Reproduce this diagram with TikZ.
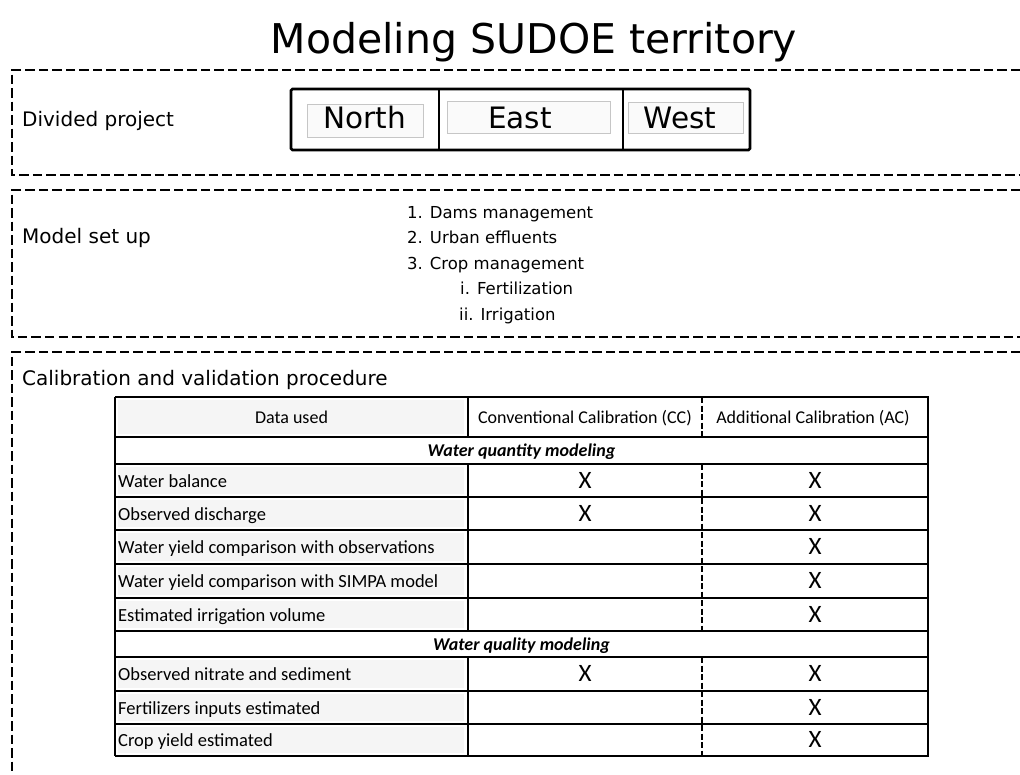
\documentclass[tikz,border=0pt]{standalone}
\usepackage{fontspec}
\setmainfont{DejaVu Sans}
\newfontfamily\tabfont{Carlito}
\begin{document}
\begin{tikzpicture}[x=1pt,y=-1pt,
  dashbox/.style={line width=2.1pt, dash pattern=on 9.5pt off 4pt},
  lbl/.style={anchor=base west, inner sep=0pt, font=\fontsize{20}{22}\selectfont},
  listitem/.style={anchor=base west, inner sep=0pt, font=\fontsize{16.5}{19}\selectfont},
  region/.style={anchor=base, inner sep=0pt, font=\fontsize{29.5}{32}\selectfont},
  innerbox/.style={draw=gray!45, fill=gray!4, line width=0.6pt},
  cell/.style={anchor=base west, inner sep=0pt, font=\tabfont\fontsize{18.5}{20}\selectfont},
  head/.style={anchor=base, inner sep=0pt, font=\tabfont\fontsize{18}{20}\selectfont},
  sect/.style={anchor=base, inner sep=0pt, font=\tabfont\bfseries\itshape\fontsize{18}{20}\selectfont},
  xmark/.style={anchor=base, inner sep=0pt, font=\tabfont\fontsize{25}{27}\selectfont},
  tline/.style={line width=1.9pt},
  dline/.style={line width=1.4pt, dash pattern=on 6pt off 2.5pt},
  shade/.style={fill=gray!8, draw=none}]
\useasboundingbox (0,0) rectangle (1020,774);
\fill[white] (0,0) rectangle (1020,774);

% title
\node[anchor=base, inner sep=0pt, font=\fontsize{41}{46}\selectfont] (title) at (534,53) {Modeling SUDOE territory};

% dashed frames
\draw[dashbox] (1020,70) -- (12,70) -- (12,175) -- (1020,175);
\draw[dashbox] (1020,190) -- (12,190) -- (12,337) -- (1020,337);
\draw[dashbox] (1020,352) -- (12,352) -- (12,774);

% section labels
\node[lbl] (divided) at (22,126) {Divided project};
\node[lbl] (setup) at (22,243) {Model set up};
\node[lbl] (calib) at (22,385) {Calibration and validation procedure};

% North / East / West
\draw[innerbox] (307,104) rectangle (423,137);
\draw[innerbox] (447,101) rectangle (610,133);
\draw[innerbox] (628,102) rectangle (743,133);
\draw[line width=2.6pt, rounded corners=1.5pt] (291,89) rectangle (750,150);
\draw[line width=2.4pt] (439,89) -- (439,150);
\draw[line width=2.4pt] (623,89) -- (623,150);
\node[region] (north) at (365,128) {North};
\node[region] (east) at (520,128) {East};
\node[region] (west) at (680,128) {West};

% model set up list
\node[listitem] (l1) at (407,218) {1. Dams management};
\node[listitem] (l2) at (407,243.5) {2. Urban effluents};
\node[listitem] (l3) at (407,269) {3. Crop management};
\node[listitem] (l4) at (460,294.5) {i. Fertilization};
\node[listitem] (l5) at (459,320) {ii. Irrigation};

% table shading of first column
\foreach \a/\b in {397/437,464/497,497/530,530/564,564/598,598/631,657/691,691/724,724/756}
  \fill[shade] (118,\a+3) rectangle (464,\b-3);

% table lines
\foreach \yy in {437,464,497,530,564,598,631,657,691,724}
  \draw[tline] (115,\yy) -- (928,\yy);
\foreach \a/\b in {397/437,464/631,657/756}{
  \draw[tline] (468,\a) -- (468,\b);
  \draw[dline] (702,\a) -- (702,\b);
}
\draw[tline] (115,397) -- (928,397);
\draw[tline] (115,756) -- (928,756);
\draw[tline] (115,397) -- (115,756);
\draw[line width=2.8pt] (928,396) -- (928,757);

% header
\node[head] (h1) at (291.5,423) {Data used};
\node[head] (h2) at (585,423) {Conventional Calibration (CC)};
\node[head] (h3) at (813,423) {Additional Calibration (AC)};

% section rows
\node[sect] (s1) at (521.5,456) {Water quantity modeling};
\node[sect] (s2) at (521.5,650) {Water quality modeling};

% data rows
\node[cell] (r1) at (118,487) {Water balance};
\node[cell] (r2) at (118,520) {Observed discharge};
\node[cell] (r3) at (118,553.5) {Water yield comparison with observations};
\node[cell] (r4) at (118,587.5) {Water yield comparison with SIMPA model};
\node[cell] (r5) at (118,621) {Estimated irrigation volume};
\node[cell] (r6) at (118,680.5) {Observed nitrate and sediment};
\node[cell] (r7) at (118,714) {Fertilizers inputs estimated};
\node[cell] (r8) at (118,746.5) {Crop yield estimated};

% marks
\node[xmark] (c1) at (585,488) {X};
\node[xmark] (c2) at (585,521) {X};
\node[xmark] (c6) at (585,681.5) {X};
\node[xmark] (a1) at (815,488) {X};
\node[xmark] (a2) at (815,521) {X};
\node[xmark] (a3) at (815,554.5) {X};
\node[xmark] (a4) at (815,588.5) {X};
\node[xmark] (a5) at (815,622) {X};
\node[xmark] (a6) at (815,681.5) {X};
\node[xmark] (a7) at (815,715) {X};
\node[xmark] (a8) at (815,747.5) {X};
\end{tikzpicture}
\end{document}
